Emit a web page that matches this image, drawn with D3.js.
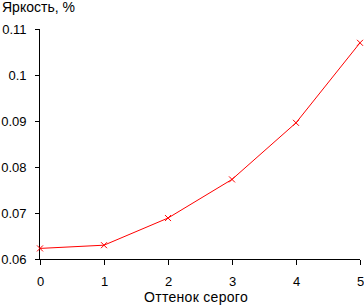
<!DOCTYPE html>
<html>
<head>
<meta charset="utf-8">
<script src="https://cdn.jsdelivr.net/npm/d3@7"></script>
<style>
  body { margin: 0; background: #fff; }
  svg text { font-family: "Liberation Sans", Arial, sans-serif; font-size: 13px; fill: #000; }
</style>
</head>
<body>
<div id="chart"></div>
<script>
// shades of grey (x) and measured brightness (y)
const shades = [0, 1, 2, 3, 4, 5];
const brightness = [0.0623, 0.0630, 0.0689, 0.0773, 0.0896, 0.1070];
const yTicks = [0.06, 0.07, 0.08, 0.09, 0.1, 0.11];

const width = 364, height = 306;

const svg = d3.select("#chart").append("svg")
    .attr("width", width)
    .attr("height", height);

const x = d3.scaleLinear().domain([0, 5]).range([40, 360]);
const y = d3.scaleLinear().domain([0.06, 0.11]).range([259, 29]);

// y axis
const yAxis = svg.append("g")
    .attr("transform", "translate(39.5,0)")
    .call(d3.axisLeft(y).tickValues(yTicks).tickSize(5).tickPadding(8)
        .tickFormat(d => String(+d.toFixed(2))));
yAxis.select(".domain").attr("d", `M0,${y(0.11)}V${y(0.06)}`);

// x axis
const xAxis = svg.append("g")
    .attr("transform", "translate(0,259.5)")
    .call(d3.axisBottom(x).tickValues(shades).tickSize(5).tickPadding(12)
        .tickFormat(d3.format("d")));
xAxis.select(".domain").attr("d", `M${x(0)},0H${x(5)}`);

svg.selectAll(".tick line").attr("stroke", "#000").attr("shape-rendering", "crispEdges");
svg.selectAll(".domain").attr("stroke", "#000").attr("shape-rendering", "crispEdges");
svg.selectAll(".tick text").style("font-size", "13px").attr("fill", "#000");

// line
const pts = shades.map((s, i) => [s, brightness[i]]);
svg.append("path")
    .datum(pts)
    .attr("fill", "none")
    .attr("stroke", "#ff0000")
    .attr("stroke-width", 1)
    .attr("d", d3.line().x(d => x(d[0])).y(d => y(d[1])));

// x markers
const m = 3;
svg.selectAll(".marker")
    .data(pts)
    .enter()
    .append("path")
    .attr("class", "marker")
    .attr("stroke", "#ff0000")
    .attr("stroke-width", 1)
    .attr("d", d => {
      const cx = x(d[0]), cy = y(d[1]);
      return `M${cx - m},${cy - m}L${cx + m},${cy + m}M${cx - m},${cy + m}L${cx + m},${cy - m}`;
    });

// titles
svg.append("text")
    .attr("x", 2)
    .attr("y", 12)
    .style("font-size", "14px")
    .text("Яркость, %");

svg.append("text")
    .attr("x", 196)
    .attr("y", 302)
    .attr("text-anchor", "middle")
    .style("font-size", "14px")
    .style("letter-spacing", "0.3px")
    .text("Оттенок серого");
</script>
</body>
</html>
